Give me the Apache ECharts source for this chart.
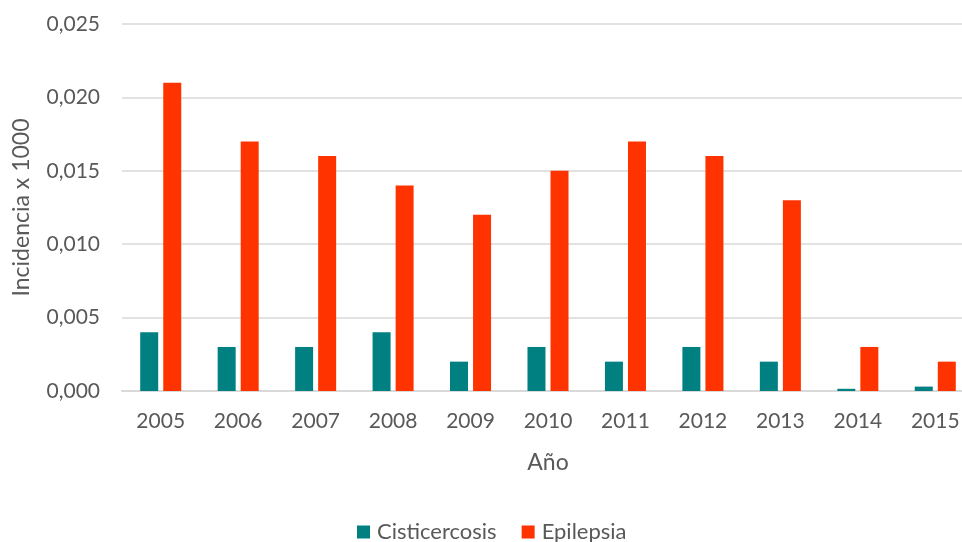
<!DOCTYPE html>
<html>
<head>
<meta charset="utf-8">
<script src="https://cdn.jsdelivr.net/npm/echarts@6/dist/echarts.min.js"></script>
<style>
  html, body { margin: 0; padding: 0; background: #fff; }
  #chart { width: 962px; height: 542px; }
</style>
</head>
<body>
<div id="chart"></div>
<script>
// Annual incidence per 1000 inhabitants
const years = ['2005', '2006', '2007', '2008', '2009', '2010', '2011', '2012', '2013', '2014', '2015'];
const cisticercosis = [0.004, 0.003, 0.003, 0.004, 0.002, 0.003, 0.002, 0.003, 0.002, 0.00015, 0.0003];
const epilepsia = [0.021, 0.017, 0.016, 0.014, 0.012, 0.015, 0.017, 0.016, 0.013, 0.003, 0.002];
const yTicks = { min: 0, max: 0.025, interval: 0.005 };

const font = 'Lato, "Open Sans", sans-serif';
const textColor = '#595959';

const chart = echarts.init(document.getElementById('chart'));
chart.setOption({
  animation: false,
  textStyle: { fontFamily: font, color: textColor },
  grid: { left: 122, top: 24, width: 852, height: 367, containLabel: false, outerBoundsMode: 'none' },
  legend: {
    top: 516,
    left: 352,
    itemWidth: 13,
    itemHeight: 13,
    itemGap: 25,
    icon: 'rect',
    textStyle: { fontFamily: font, fontSize: 22, color: textColor, padding: [0, 0, 0, 2] },
    data: ['Cisticercosis', 'Epilepsia']
  },
  xAxis: {
    type: 'category',
    data: years,
    name: 'Año',
    nameLocation: 'middle',
    nameGap: 60,
    nameTextStyle: { fontFamily: font, fontSize: 23, color: textColor },
    axisLine: { show: true, lineStyle: { color: '#d9d9d9', width: 2 } },
    axisTick: { show: false },
    axisLabel: { fontFamily: font, fontSize: 21, color: textColor, margin: 20 }
  },
  yAxis: {
    type: 'value',
    min: yTicks.min,
    max: yTicks.max,
    interval: yTicks.interval,
    name: 'Incidencia x 1000',
    nameLocation: 'middle',
    nameGap: 89,
    nameTextStyle: { fontFamily: font, fontSize: 23, color: textColor },
    axisLine: { show: false },
    axisTick: { show: false },
    splitLine: { lineStyle: { color: '#d9d9d9', width: 1.5 } },
    axisLabel: {
      fontFamily: font, fontSize: 21, color: textColor, margin: 22,
      formatter: v => v.toFixed(3).replace('.', ',')
    }
  },
  series: [
    {
      name: 'Cisticercosis',
      type: 'bar',
      data: cisticercosis,
      barWidth: 18,
      barGap: '28%',
      itemStyle: { color: '#008080' }
    },
    {
      name: 'Epilepsia',
      type: 'bar',
      data: epilepsia,
      barWidth: 18,
      barGap: '28%',
      itemStyle: { color: '#FF3300' }
    }
  ]
});
</script>
</body>
</html>
